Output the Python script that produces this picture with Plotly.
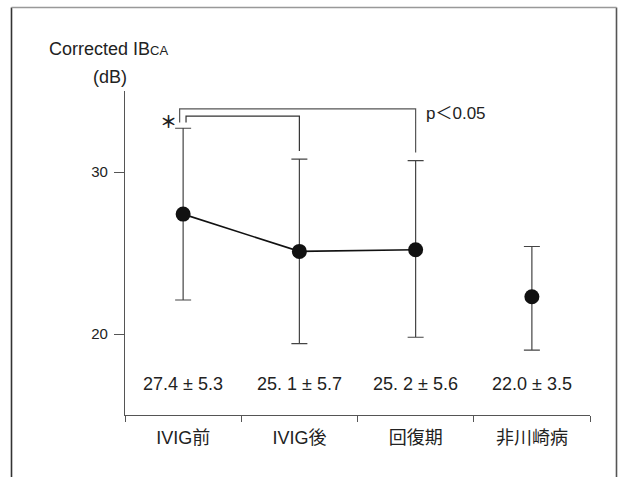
import plotly.graph_objects as go

categories = ["IVIG前", "IVIG後", "回復期", "非川崎病"]
means = [27.4, 25.1, 25.2, 22.3]
err_plus = [5.3, 5.7, 5.5, 3.1]
err_minus = [5.3, 5.7, 5.4, 3.3]
value_labels = ["27.4 ± 5.3", "25. 1 ± 5.7", "25. 2 ± 5.6", "22.0 ± 3.5"]
y_ticks = [20, 30]
connected = 3  # first three groups are connected by a line

FONT = "Liberation Sans, Arial, Noto Sans CJK JP, sans-serif"
TXT = "#222222"

fig = go.Figure()
fig.add_trace(go.Scatter(
    x=categories[:connected], y=means[:connected], mode="lines",
    line=dict(color="#111111", width=1.6), showlegend=False, hoverinfo="skip"))
fig.add_trace(go.Scatter(
    x=categories, y=means, mode="markers",
    marker=dict(color="#111111", size=15),
    error_y=dict(type="data", symmetric=False, array=err_plus, arrayminus=err_minus,
                 color="#444444", thickness=1.2, width=8),
    showlegend=False))

# value labels under each group
for c, t in zip(categories, value_labels):
    fig.add_annotation(x=c, y=16.9, xref="x", yref="y", text=t, showarrow=False,
                       xanchor="center", yanchor="middle",
                       font=dict(family=FONT, size=18, color=TXT))

# significance brackets, built from the error-bar tops
tops = [m + e for m, e in zip(means, err_plus)]
left_drop = tops[0] + 0.35
def bracket(x0, x1, ytop, yr):
    return f"M {x0} {left_drop} L {x0} {ytop} L {x1} {ytop} L {x1} {yr}"
fig.add_shape(type="path", xref="x", yref="y",
              path=bracket(-0.03, 2, 33.9, tops[2] + 0.5),
              line=dict(color="#555555", width=1.2))
fig.add_shape(type="path", xref="x", yref="y",
              path=bracket(0.025, 1, 33.45, tops[1] + 0.5),
              line=dict(color="#333333", width=1.2))
fig.add_annotation(x=-0.13, y=33.15, xref="x", yref="y", text="<b>＊</b>", showarrow=False,
                   xanchor="center", yanchor="middle",
                   font=dict(family="Noto Sans CJK JP", size=17, color=TXT))
fig.add_annotation(x=2.07, y=33.6, xref="x", yref="y", text="p＜0.05", showarrow=False,
                   xanchor="left", yanchor="middle",
                   font=dict(family=FONT, size=17, color=TXT))

# axis title
W, H = 626, 477
L, R, T, B = 125, 36, 91, 62
pw, ph = W - L - R, H - T - B
def px(x): return (x - L) / pw
def py(y): return (H - B - y) / ph
fig.add_annotation(x=px(108.5), y=py(49), xref="paper", yref="paper",
                   text="Corrected IB<span style='font-size:13px'>CA</span>",
                   xanchor="center", yanchor="middle",
                   showarrow=False, font=dict(family=FONT, size=18, color=TXT))
fig.add_annotation(x=px(109.5), y=py(77), xref="paper", yref="paper",
                   text="(dB)", xanchor="center", yanchor="middle", showarrow=False,
                   font=dict(family=FONT, size=18, color=TXT))

# outer frame (bottom edge lies below the page)
frame = [((11.5, 7.5), (11.5, 495), "#333333"),
         ((616.5, 7.5), (616.5, 495), "#555555"),
         ((11.5, 7.5), (616.5, 7.5), "#999999")]
for (xa, ya), (xb, yb), col in frame:
    fig.add_shape(type="line", xref="paper", yref="paper",
                  x0=px(xa), y0=py(ya), x1=px(xb), y1=py(yb),
                  line=dict(color=col, width=1.6))

fig.update_layout(
    width=W, height=H, margin=dict(l=L, r=R, t=T, b=B),
    paper_bgcolor="white", plot_bgcolor="white",
    font=dict(family=FONT, size=16, color=TXT),
    xaxis=dict(type="category", range=[-0.5, 3.5], showline=True, linecolor="#555555",
               linewidth=1.3, ticks="outside", tickson="boundaries", ticklen=6,
               tickcolor="#555555", showgrid=False, zeroline=False,
               ticklabelstandoff=6,
               tickfont=dict(family=FONT, size=18, color=TXT)),
    yaxis=dict(range=[15, 35], showline=True, linecolor="#555555", linewidth=1.3,
               ticks="outside", ticklen=10, tickcolor="#555555", tickvals=y_ticks,
               showgrid=False, zeroline=False, ticklabelstandoff=3,
               tickfont=dict(family=FONT, size=15, color=TXT)),
)
fig.write_html("out.html")
